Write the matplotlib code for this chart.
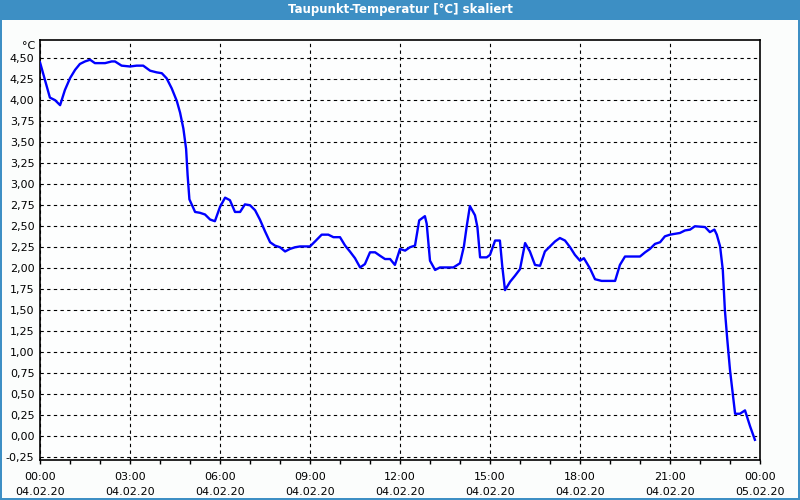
import matplotlib
matplotlib.use("Agg")
import matplotlib.pyplot as plt
from matplotlib.patches import Rectangle
from matplotlib.ticker import FixedLocator, MultipleLocator, FuncFormatter

# hours after 04.02.20 00:00 and dew point in °C
hours = [
    0.0, 0.33, 0.5, 0.67, 0.83, 1.0, 1.17, 1.33, 1.5, 1.67, 1.83, 2.17, 2.39,
    2.5, 2.72, 3.0, 3.22, 3.44, 3.67, 3.89, 4.06, 4.22, 4.39, 4.56, 4.67, 4.78,
    4.87, 4.92, 4.98, 5.17, 5.33, 5.5, 5.67, 5.83, 6.0, 6.17, 6.33, 6.5, 6.67,
    6.83, 7.0, 7.17, 7.33, 7.5, 7.67, 7.83, 8.0, 8.17, 8.33, 8.5, 8.67, 9.0,
    9.17, 9.39, 9.61, 9.78, 10.0, 10.17, 10.33, 10.5, 10.67, 10.83, 11.0,
    11.17, 11.33, 11.5, 11.67, 11.83, 12.0, 12.17, 12.33, 12.5, 12.64, 12.83,
    12.89, 13.0, 13.17, 13.33, 13.5, 13.78, 14.0, 14.13, 14.22, 14.33, 14.5,
    14.58, 14.64, 14.67, 14.89, 15.0, 15.17, 15.33, 15.41, 15.5, 15.67, 15.83,
    16.0, 16.17, 16.33, 16.5, 16.67, 16.83, 17.0, 17.17, 17.33, 17.5, 17.67,
    17.83, 18.0, 18.13, 18.33, 18.5, 18.72, 19.17, 19.33, 19.5, 20.0, 20.17,
    20.33, 20.5, 20.67, 20.83, 21.0, 21.33, 21.5, 21.67, 21.83, 22.17, 22.33,
    22.48, 22.56, 22.67, 22.76, 22.83, 22.91, 23.0, 23.09, 23.17, 23.33, 23.5,
    23.67, 23.83,
]
dewpoint = [
    4.45, 4.03, 4.0, 3.94, 4.12, 4.26, 4.36, 4.43, 4.46, 4.48, 4.44, 4.44, 4.46,
    4.46, 4.41, 4.40, 4.41, 4.41, 4.35, 4.33, 4.32, 4.26, 4.14, 3.99, 3.85, 3.66,
    3.42, 3.11, 2.82, 2.67, 2.66, 2.64, 2.58, 2.56, 2.73, 2.84, 2.81, 2.67, 2.67,
    2.76, 2.75, 2.69, 2.58, 2.44, 2.31, 2.27, 2.25, 2.20, 2.23, 2.25, 2.26, 2.26,
    2.32, 2.40, 2.40, 2.37, 2.37, 2.27, 2.20, 2.12, 2.01, 2.05, 2.19,
    2.19, 2.15, 2.11, 2.11, 2.04, 2.23, 2.21, 2.25, 2.27, 2.57, 2.62,
    2.53, 2.09, 1.98, 2.01, 2.01, 2.01, 2.06, 2.26, 2.49, 2.74, 2.63,
    2.49, 2.24, 2.13, 2.13, 2.16, 2.33, 2.33, 2.02, 1.74, 1.84, 1.91,
    1.99, 2.30, 2.20, 2.04, 2.03, 2.20, 2.26, 2.32, 2.36, 2.33, 2.25,
    2.16, 2.09, 2.12, 2.00, 1.87, 1.85, 1.85, 2.04, 2.14, 2.14, 2.19,
    2.23, 2.29, 2.31, 2.38, 2.40, 2.42, 2.45, 2.46, 2.50, 2.49, 2.43,
    2.46, 2.40, 2.26, 1.98, 1.50, 1.15, 0.79, 0.51, 0.27, 0.27, 0.31,
    0.12, -0.04,
]

x_major = [0, 3, 6, 9, 12, 15, 18, 21, 24]
x_labels = ["00:00\n04.02.20", "03:00\n04.02.20", "06:00\n04.02.20",
            "09:00\n04.02.20", "12:00\n04.02.20", "15:00\n04.02.20",
            "18:00\n04.02.20", "21:00\n04.02.20", "00:00\n05.02.20"]
y_ticks = [i * 0.25 for i in range(-1, 19)]

title = "Taupunkt-Temperatur [°C] skaliert"
bar_blue = "#3d8fc4"

fig = plt.figure(figsize=(8, 5), dpi=100)
fig.patch.set_facecolor("#fbfdfc")

# window frame: title bar and thin border
fig.add_artist(Rectangle((0, 480 / 500), 1, 20 / 500, transform=fig.transFigure,
                         facecolor=bar_blue, edgecolor="none"))
fig.add_artist(Rectangle((0, 0), 2 / 800, 1, transform=fig.transFigure,
                         facecolor=bar_blue, edgecolor="none"))
fig.add_artist(Rectangle((798 / 800, 0), 2 / 800, 1, transform=fig.transFigure,
                         facecolor=bar_blue, edgecolor="none"))
fig.add_artist(Rectangle((0, 0), 1, 2 / 500, transform=fig.transFigure,
                         facecolor=bar_blue, edgecolor="none"))
fig.text(0.5, 490 / 500, title, color="white", fontsize=8.5, fontweight="bold",
         ha="center", va="center")

ax = fig.add_axes([40 / 800, 40 / 500, 720 / 800, 420 / 500])
ax.set_facecolor("#fdfefe")
ax.plot(hours, dewpoint, color="#0000ff", linewidth=1.7, zorder=3)

ax.set_xlim(0, 24)
ax.set_ylim(-0.28, 4.715)

ax.xaxis.set_major_locator(FixedLocator(x_major))
ax.set_xticklabels(x_labels)
ax.xaxis.set_minor_locator(MultipleLocator(1))
ax.yaxis.set_major_locator(FixedLocator(y_ticks))
ax.yaxis.set_major_formatter(FuncFormatter(lambda v, p: f"{v:.2f}".replace(".", ",")))

ax.tick_params(axis="x", which="both", direction="out", length=3, width=1,
               labelsize=8, pad=6, color="black")
ax.tick_params(axis="y", which="both", length=0, labelsize=8, pad=4)
for lbl in ax.get_xticklabels():
    lbl.set_linespacing(1.6)

ax.grid(True, which="major", color="black", linestyle=(0, (3, 3)), linewidth=0.8)
for s in ax.spines.values():
    s.set_color("black")
    s.set_linewidth(1.2)

ax.text(-0.006, 0.985, "°C", transform=ax.transAxes, ha="right", va="center",
        fontsize=8)

fig.savefig("out.png", dpi=100, facecolor=fig.get_facecolor())
